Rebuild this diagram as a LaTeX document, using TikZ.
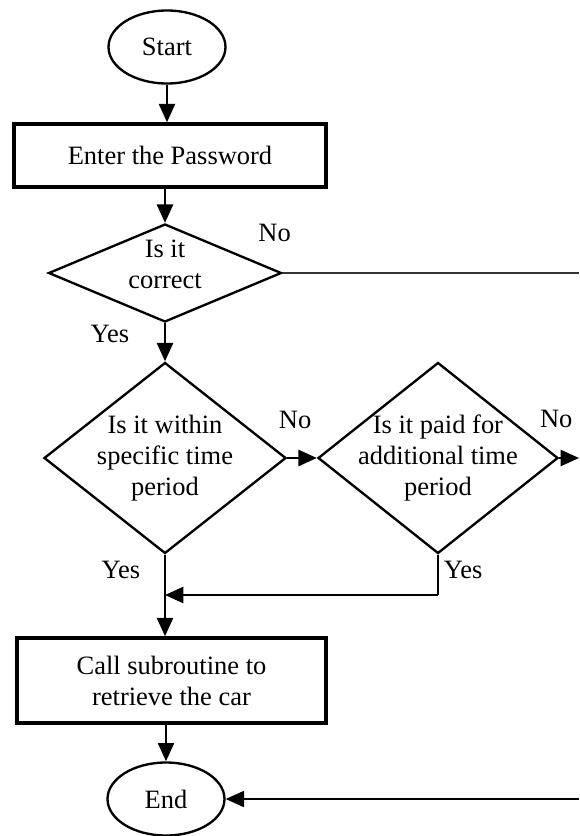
\documentclass[tikz,border=0pt]{standalone}
\usepackage{fontspec}
\setmainfont{Liberation Serif}
\usetikzlibrary{positioning,shapes.geometric,arrows.meta}

\begin{document}
\begin{tikzpicture}[
x=0.03cm,y=-0.03cm,
every node/.style={font=\fontsize{22.6}{26.5}\selectfont},
term/.style={
  draw,
  ellipse,
  line width=2pt,
  inner sep=0pt,
  minimum width=3.51cm,
  minimum height=2.19cm},
stepbox/.style={
  draw,
  rectangle,
  line width=3pt,
  align=center,
  inner sep=0pt},
test/.style={
  draw,
  diamond,
  line width=2pt,
  align=center,
  inner ysep=0pt,
  inner xsep=-0.5cm},
arr/.style={
  line width=2pt,
  -{Triangle[length=0.55cm,width=0.48cm]}},
thinline/.style={line width=1pt},
lbl/.style={inner sep=0pt}
]
\useasboundingbox (0,0) rectangle (579,836);
\node[term] (Start) at (167,47) {Start};
\node[stepbox, minimum width=9.36cm, minimum height=1.89cm]
  (Enter) at (170,155.5) {Enter the Password};
\node[test, aspect=2.38, minimum width=6.99cm, minimum height=2.94cm,
  text depth=0.54cm] (Q1) at (165,273) {Is it\\correct};
\node[test, aspect=1.26, minimum width=7.26cm, minimum height=5.73cm]
  (Q2) at (165,458) {Is it within\\specific time\\period};
\node[test, aspect=1.26, minimum width=7.2cm, minimum height=5.73cm]
  (Q3) at (438,458) {Is it paid for\\additional time\\period};
\node[stepbox, minimum width=9.27cm, minimum height=2.55cm]
  (Call) at (171.5,680.5) {Call subroutine to\\retrieve the car};
\node[term] (End) at (166,799) {End};
\coordinate (noR) at (579,273);
\coordinate (q3R) at (579,458);
\coordinate (endR) at (579,799);
\coordinate (join) at (165,595);
% connectors
\draw[arr] (Start) -- (Start |- Enter.north);
\draw[arr] (Enter.south -| Q1) -- (Q1);
\draw[line width=1.2pt, black!80] (Q1) -- (noR);
\draw[arr] (Q1) -- (Q2);
\draw[arr] (Q2) -- (Q3);
\draw[arr] (Q3) -- (q3R);
\draw[thinline] (Q3) -- (Q3 |- join);
\draw[arr] (Q3 |- join) -- (join);
\draw[arr] (Q2) -- (Q2 |- Call.north);
\draw[arr] (End |- Call.south) -- (End);
\draw[arr, line width=1.5pt] (endR) -- (End);
% labels
\node[lbl, above=0.93cm of Q1.east, xshift=-0.24cm] (no1) {No};
\node[lbl, below left=0.06cm and 1.07cm of Q1.south] (yes1) {Yes};
\node[lbl, above=0.87cm of Q2.east, xshift=0.24cm] (no2) {No};
\node[lbl, above=0.9cm of Q3.east, xshift=-0.09cm] (no3) {No};
\node[lbl, below left=0.18cm and 0.74cm of Q2.south] (yes2) {Yes};
\node[lbl, below right=0.18cm and 0.17cm of Q3.south] (yes3) {Yes};
\end{tikzpicture}
\end{document}
